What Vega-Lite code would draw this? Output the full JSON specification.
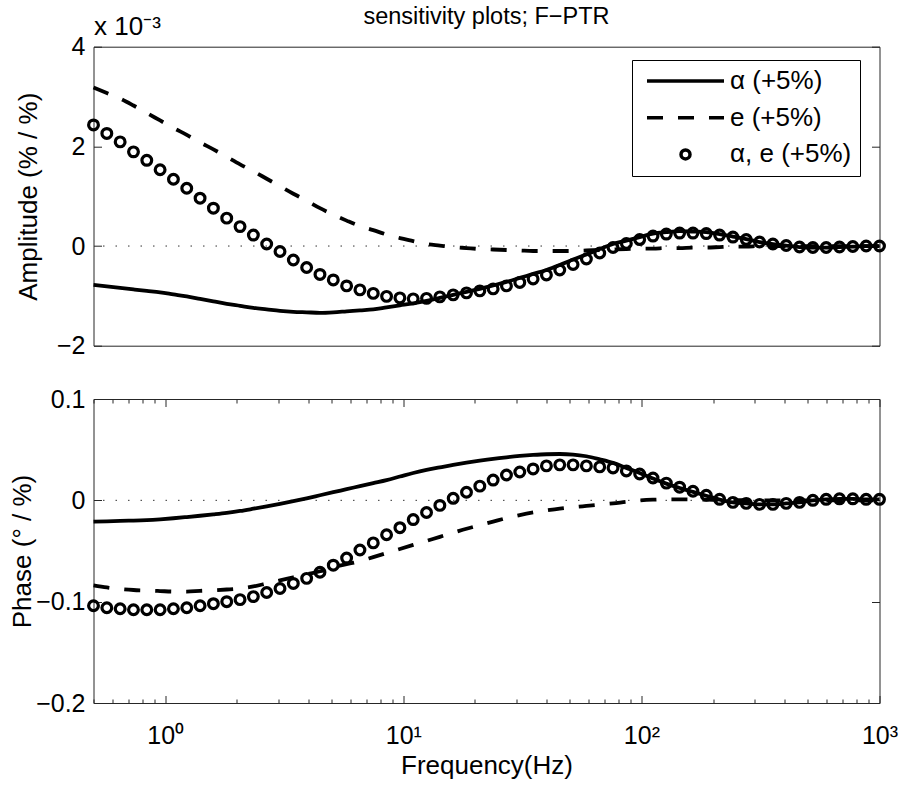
{
  "$schema": "https://vega.github.io/schema/vega-lite/v6.json",
  "autosize": {"type": "none"},
  "padding": {"left": 93.5, "top": 46.7, "right": 806.5, "bottom": 740.3},
  "background": "white",
  "spacing": 53.3,
  "bounds": "flush",
  "resolve": {"scale": {"x": "independent", "y": "independent"}},
  "data": {"values": [
    {"f":0.5,"s":"α (+5%)","a":-0.00078,"p":-0.021},
    {"f":0.5688,"s":"α (+5%)","a":-0.00081,"p":-0.0207},
    {"f":0.647,"s":"α (+5%)","a":-0.00084,"p":-0.0203},
    {"f":0.736,"s":"α (+5%)","a":-0.00087,"p":-0.02},
    {"f":0.8371,"s":"α (+5%)","a":-0.0009,"p":-0.0195},
    {"f":0.9522,"s":"α (+5%)","a":-0.00093,"p":-0.0187},
    {"f":1.0831,"s":"α (+5%)","a":-0.00097,"p":-0.0177},
    {"f":1.232,"s":"α (+5%)","a":-0.00101,"p":-0.0165},
    {"f":1.4014,"s":"α (+5%)","a":-0.00106,"p":-0.0152},
    {"f":1.5941,"s":"α (+5%)","a":-0.00111,"p":-0.0138},
    {"f":1.8133,"s":"α (+5%)","a":-0.00116,"p":-0.0123},
    {"f":2.0626,"s":"α (+5%)","a":-0.0012,"p":-0.0105},
    {"f":2.3462,"s":"α (+5%)","a":-0.00124,"p":-0.0083},
    {"f":2.6688,"s":"α (+5%)","a":-0.00127,"p":-0.006},
    {"f":3.0357,"s":"α (+5%)","a":-0.0013,"p":-0.0035},
    {"f":3.4531,"s":"α (+5%)","a":-0.00132,"p":-0.0008},
    {"f":3.9278,"s":"α (+5%)","a":-0.00133,"p":0.002},
    {"f":4.4679,"s":"α (+5%)","a":-0.00134,"p":0.005},
    {"f":5.0821,"s":"α (+5%)","a":-0.00133,"p":0.008},
    {"f":5.7809,"s":"α (+5%)","a":-0.00131,"p":0.011},
    {"f":6.5757,"s":"α (+5%)","a":-0.00129,"p":0.014},
    {"f":7.4797,"s":"α (+5%)","a":-0.00127,"p":0.017},
    {"f":8.5081,"s":"α (+5%)","a":-0.00123,"p":0.02},
    {"f":9.6778,"s":"α (+5%)","a":-0.00119,"p":0.0235},
    {"f":11.008,"s":"α (+5%)","a":-0.00115,"p":0.027},
    {"f":12.522,"s":"α (+5%)","a":-0.0011,"p":0.03},
    {"f":14.243,"s":"α (+5%)","a":-0.00104,"p":0.0325},
    {"f":16.202,"s":"α (+5%)","a":-0.00098,"p":0.035},
    {"f":18.429,"s":"α (+5%)","a":-0.00092,"p":0.0372},
    {"f":20.963,"s":"α (+5%)","a":-0.00086,"p":0.0392},
    {"f":23.845,"s":"α (+5%)","a":-0.00079,"p":0.041},
    {"f":27.124,"s":"α (+5%)","a":-0.00072,"p":0.0425},
    {"f":30.853,"s":"α (+5%)","a":-0.00064,"p":0.0438},
    {"f":35.095,"s":"α (+5%)","a":-0.00056,"p":0.0448},
    {"f":39.92,"s":"α (+5%)","a":-0.00048,"p":0.0455},
    {"f":45.408,"s":"α (+5%)","a":-0.00038,"p":0.0457},
    {"f":51.651,"s":"α (+5%)","a":-0.00027,"p":0.0452},
    {"f":58.752,"s":"α (+5%)","a":-0.00017,"p":0.0435},
    {"f":66.83,"s":"α (+5%)","a":-0.00006,"p":0.0405},
    {"f":76.018,"s":"α (+5%)","a":0.00004,"p":0.037},
    {"f":86.469,"s":"α (+5%)","a":0.00011,"p":0.032},
    {"f":98.357,"s":"α (+5%)","a":0.00018,"p":0.027},
    {"f":111.88,"s":"α (+5%)","a":0.00025,"p":0.0215},
    {"f":127.26,"s":"α (+5%)","a":0.00028,"p":0.0165},
    {"f":144.76,"s":"α (+5%)","a":0.0003,"p":0.0122},
    {"f":164.66,"s":"α (+5%)","a":0.00029,"p":0.0083},
    {"f":187.3,"s":"α (+5%)","a":0.00028,"p":0.0045},
    {"f":213.05,"s":"α (+5%)","a":0.00024,"p":0.0008},
    {"f":242.34,"s":"α (+5%)","a":0.00019,"p":-0.002},
    {"f":275.66,"s":"α (+5%)","a":0.00014,"p":-0.003},
    {"f":313.56,"s":"α (+5%)","a":0.00008,"p":-0.004},
    {"f":356.67,"s":"α (+5%)","a":0.00004,"p":-0.004},
    {"f":405.71,"s":"α (+5%)","a":0.00001,"p":-0.003},
    {"f":461.49,"s":"α (+5%)","a":-0.00002,"p":-0.002},
    {"f":524.94,"s":"α (+5%)","a":-0.00003,"p":0},
    {"f":597.11,"s":"α (+5%)","a":-0.00003,"p":0.001},
    {"f":679.2,"s":"α (+5%)","a":-0.00002,"p":0.0015},
    {"f":772.58,"s":"α (+5%)","a":-0.00001,"p":0.0015},
    {"f":878.8,"s":"α (+5%)","a":0,"p":0.001},
    {"f":1000,"s":"α (+5%)","a":0,"p":0.001},
    {"f":0.5,"s":"e (+5%)","a":0.00318,"p":-0.084},
    {"f":0.5688,"s":"e (+5%)","a":0.00307,"p":-0.086},
    {"f":0.647,"s":"e (+5%)","a":0.00296,"p":-0.0875},
    {"f":0.736,"s":"e (+5%)","a":0.00282,"p":-0.0885},
    {"f":0.8371,"s":"e (+5%)","a":0.00267,"p":-0.089},
    {"f":0.9522,"s":"e (+5%)","a":0.00252,"p":-0.0895},
    {"f":1.0831,"s":"e (+5%)","a":0.00237,"p":-0.09},
    {"f":1.232,"s":"e (+5%)","a":0.00223,"p":-0.09},
    {"f":1.4014,"s":"e (+5%)","a":0.00208,"p":-0.0893},
    {"f":1.5941,"s":"e (+5%)","a":0.00194,"p":-0.0888},
    {"f":1.8133,"s":"e (+5%)","a":0.00179,"p":-0.088},
    {"f":2.0626,"s":"e (+5%)","a":0.00164,"p":-0.087},
    {"f":2.3462,"s":"e (+5%)","a":0.0015,"p":-0.085},
    {"f":2.6688,"s":"e (+5%)","a":0.00135,"p":-0.082},
    {"f":3.0357,"s":"e (+5%)","a":0.0012,"p":-0.079},
    {"f":3.4531,"s":"e (+5%)","a":0.00105,"p":-0.076},
    {"f":3.9278,"s":"e (+5%)","a":0.00091,"p":-0.073},
    {"f":4.4679,"s":"e (+5%)","a":0.00076,"p":-0.07},
    {"f":5.0821,"s":"e (+5%)","a":0.00063,"p":-0.066},
    {"f":5.7809,"s":"e (+5%)","a":0.00051,"p":-0.063},
    {"f":6.5757,"s":"e (+5%)","a":0.0004,"p":-0.06},
    {"f":7.4797,"s":"e (+5%)","a":0.00032,"p":-0.056},
    {"f":8.5081,"s":"e (+5%)","a":0.00023,"p":-0.052},
    {"f":9.6778,"s":"e (+5%)","a":0.00016,"p":-0.048},
    {"f":11.008,"s":"e (+5%)","a":0.0001,"p":-0.044},
    {"f":12.522,"s":"e (+5%)","a":0.00004,"p":-0.04},
    {"f":14.243,"s":"e (+5%)","a":0.00001,"p":-0.036},
    {"f":16.202,"s":"e (+5%)","a":-0.00002,"p":-0.032},
    {"f":18.429,"s":"e (+5%)","a":-0.00004,"p":-0.028},
    {"f":20.963,"s":"e (+5%)","a":-0.00006,"p":-0.0245},
    {"f":23.845,"s":"e (+5%)","a":-0.00007,"p":-0.021},
    {"f":27.124,"s":"e (+5%)","a":-0.00008,"p":-0.0175},
    {"f":30.853,"s":"e (+5%)","a":-0.00009,"p":-0.0145},
    {"f":35.095,"s":"e (+5%)","a":-0.0001,"p":-0.012},
    {"f":39.92,"s":"e (+5%)","a":-0.0001,"p":-0.01},
    {"f":45.408,"s":"e (+5%)","a":-0.0001,"p":-0.0082},
    {"f":51.651,"s":"e (+5%)","a":-0.0001,"p":-0.0068},
    {"f":58.752,"s":"e (+5%)","a":-0.00009,"p":-0.0055},
    {"f":66.83,"s":"e (+5%)","a":-0.00008,"p":-0.0042},
    {"f":76.018,"s":"e (+5%)","a":-0.00007,"p":-0.003},
    {"f":86.469,"s":"e (+5%)","a":-0.00006,"p":-0.0015},
    {"f":98.357,"s":"e (+5%)","a":-0.00005,"p":-0.0002},
    {"f":111.88,"s":"e (+5%)","a":-0.00005,"p":0.0006},
    {"f":127.26,"s":"e (+5%)","a":-0.00004,"p":0.001},
    {"f":144.76,"s":"e (+5%)","a":-0.00004,"p":0.001},
    {"f":164.66,"s":"e (+5%)","a":-0.00003,"p":0.0008},
    {"f":187.3,"s":"e (+5%)","a":-0.00003,"p":0.0006},
    {"f":213.05,"s":"e (+5%)","a":-0.00002,"p":0.0004},
    {"f":242.34,"s":"e (+5%)","a":-0.00001,"p":0.0002},
    {"f":275.66,"s":"e (+5%)","a":-0.00001,"p":0.0001},
    {"f":313.56,"s":"e (+5%)","a":0,"p":0},
    {"f":356.67,"s":"e (+5%)","a":0,"p":0},
    {"f":405.71,"s":"e (+5%)","a":0,"p":0},
    {"f":461.49,"s":"e (+5%)","a":0,"p":0},
    {"f":524.94,"s":"e (+5%)","a":0,"p":0},
    {"f":597.11,"s":"e (+5%)","a":0,"p":0},
    {"f":679.2,"s":"e (+5%)","a":0,"p":0},
    {"f":772.58,"s":"e (+5%)","a":0,"p":0},
    {"f":878.8,"s":"e (+5%)","a":0,"p":0},
    {"f":1000,"s":"e (+5%)","a":0,"p":0},
    {"f":0.5,"s":"α, e (+5%)","a":0.00243,"p":-0.104},
    {"f":0.5688,"s":"α, e (+5%)","a":0.00226,"p":-0.106},
    {"f":0.647,"s":"α, e (+5%)","a":0.00209,"p":-0.107},
    {"f":0.736,"s":"α, e (+5%)","a":0.00189,"p":-0.108},
    {"f":0.8371,"s":"α, e (+5%)","a":0.00172,"p":-0.108},
    {"f":0.9522,"s":"α, e (+5%)","a":0.00153,"p":-0.108},
    {"f":1.0831,"s":"α, e (+5%)","a":0.00134,"p":-0.107},
    {"f":1.232,"s":"α, e (+5%)","a":0.00116,"p":-0.106},
    {"f":1.4014,"s":"α, e (+5%)","a":0.00096,"p":-0.104},
    {"f":1.5941,"s":"α, e (+5%)","a":0.00076,"p":-0.102},
    {"f":1.8133,"s":"α, e (+5%)","a":0.00056,"p":-0.1},
    {"f":2.0626,"s":"α, e (+5%)","a":0.00039,"p":-0.098},
    {"f":2.3462,"s":"α, e (+5%)","a":0.00022,"p":-0.095},
    {"f":2.6688,"s":"α, e (+5%)","a":0.00004,"p":-0.091},
    {"f":3.0357,"s":"α, e (+5%)","a":-0.00011,"p":-0.087},
    {"f":3.4531,"s":"α, e (+5%)","a":-0.00028,"p":-0.082},
    {"f":3.9278,"s":"α, e (+5%)","a":-0.00043,"p":-0.077},
    {"f":4.4679,"s":"α, e (+5%)","a":-0.00057,"p":-0.071},
    {"f":5.0821,"s":"α, e (+5%)","a":-0.00068,"p":-0.064},
    {"f":5.7809,"s":"α, e (+5%)","a":-0.0008,"p":-0.057},
    {"f":6.5757,"s":"α, e (+5%)","a":-0.00088,"p":-0.049},
    {"f":7.4797,"s":"α, e (+5%)","a":-0.00095,"p":-0.042},
    {"f":8.5081,"s":"α, e (+5%)","a":-0.00101,"p":-0.034},
    {"f":9.6778,"s":"α, e (+5%)","a":-0.00104,"p":-0.027},
    {"f":11.008,"s":"α, e (+5%)","a":-0.00106,"p":-0.019},
    {"f":12.522,"s":"α, e (+5%)","a":-0.00105,"p":-0.012},
    {"f":14.243,"s":"α, e (+5%)","a":-0.00102,"p":-0.005},
    {"f":16.202,"s":"α, e (+5%)","a":-0.00098,"p":0.002},
    {"f":18.429,"s":"α, e (+5%)","a":-0.00094,"p":0.008},
    {"f":20.963,"s":"α, e (+5%)","a":-0.0009,"p":0.014},
    {"f":23.845,"s":"α, e (+5%)","a":-0.00086,"p":0.02},
    {"f":27.124,"s":"α, e (+5%)","a":-0.0008,"p":0.025},
    {"f":30.853,"s":"α, e (+5%)","a":-0.00073,"p":0.028},
    {"f":35.095,"s":"α, e (+5%)","a":-0.00066,"p":0.031},
    {"f":39.92,"s":"α, e (+5%)","a":-0.00058,"p":0.034},
    {"f":45.408,"s":"α, e (+5%)","a":-0.00048,"p":0.035},
    {"f":51.651,"s":"α, e (+5%)","a":-0.00037,"p":0.035},
    {"f":58.752,"s":"α, e (+5%)","a":-0.00026,"p":0.034},
    {"f":66.83,"s":"α, e (+5%)","a":-0.00014,"p":0.033},
    {"f":76.018,"s":"α, e (+5%)","a":-0.00003,"p":0.032},
    {"f":86.469,"s":"α, e (+5%)","a":0.00005,"p":0.029},
    {"f":98.357,"s":"α, e (+5%)","a":0.00013,"p":0.026},
    {"f":111.88,"s":"α, e (+5%)","a":0.0002,"p":0.022},
    {"f":127.26,"s":"α, e (+5%)","a":0.00024,"p":0.017},
    {"f":144.76,"s":"α, e (+5%)","a":0.00026,"p":0.013},
    {"f":164.66,"s":"α, e (+5%)","a":0.00026,"p":0.009},
    {"f":187.3,"s":"α, e (+5%)","a":0.00025,"p":0.005},
    {"f":213.05,"s":"α, e (+5%)","a":0.00022,"p":0.001},
    {"f":242.34,"s":"α, e (+5%)","a":0.00018,"p":-0.002},
    {"f":275.66,"s":"α, e (+5%)","a":0.00013,"p":-0.003},
    {"f":313.56,"s":"α, e (+5%)","a":0.00008,"p":-0.004},
    {"f":356.67,"s":"α, e (+5%)","a":0.00004,"p":-0.004},
    {"f":405.71,"s":"α, e (+5%)","a":0.00001,"p":-0.003},
    {"f":461.49,"s":"α, e (+5%)","a":-0.00002,"p":-0.002},
    {"f":524.94,"s":"α, e (+5%)","a":-0.00003,"p":0},
    {"f":597.11,"s":"α, e (+5%)","a":-0.00003,"p":0.001},
    {"f":679.2,"s":"α, e (+5%)","a":-0.00002,"p":0.0015},
    {"f":772.58,"s":"α, e (+5%)","a":-0.00001,"p":0.0015},
    {"f":878.8,"s":"α, e (+5%)","a":0,"p":0.001},
    {"f":1000,"s":"α, e (+5%)","a":0,"p":0.001}
  ]},
  "vconcat": [
    {
      "width": 786,
      "height": 299,
      "title": {"text": "sensitivity plots; F−PTR", "anchor": "middle", "frame": "group", "font": "Liberation Sans", "fontSize": 23.5, "fontWeight": "normal", "color": "black", "baseline": "alphabetic", "offset": -34.5},
      "resolve": {"axis": {"x": "independent", "y": "independent"}},
      "layer": [
        {
          "data": {"values": [{}]},
          "mark": {"type": "rule", "strokeDash": [1.5, 11], "color": "#333333", "strokeWidth": 1},
          "encoding": {
            "y": {"datum": 0, "type": "quantitative",
              "scale": {"domain": [-0.002, 0.004], "nice": false, "zero": false},
              "axis": {"orient": "left", "values": [-0.002, 0, 0.002, 0.004], "labelExpr": "format(datum.value*1000, '~f')", "ticks": false, "labelPadding": 8.5, "title": "Amplitude (% / %)", "titleX": -57, "titleBaseline": "alphabetic"}}
          }
        },
        {
          "transform": [{"filter": "datum.s === 'α (+5%)'"}],
          "mark": {"type": "line", "strokeWidth": 3.8, "interpolate": "monotone"},
          "encoding": {
            "x": {"field": "f", "type": "quantitative",
              "scale": {"type": "log", "domain": [0.5, 1000], "nice": false},
              "axis": {"orient": "top", "ticks": false, "labels": false, "title": "x 10⁻³", "titleX": 0, "titleY": -12.7, "titleAlign": "left", "titleAnchor": "start", "titleBaseline": "alphabetic"}},
            "y": {"field": "a", "type": "quantitative",
              "scale": {"domain": [-0.002, 0.004], "nice": false, "zero": false},
              "axis": {"orient": "right", "values": [-0.002, 0, 0.002, 0.004], "labels": false, "tickSize": -8, "title": null}},
            "color": {"field": "s", "type": "nominal",
              "scale": {"domain": ["α (+5%)", "e (+5%)", "α, e (+5%)"], "range": ["black", "black", "black"]},
              "legend": {
                "title": null, "orient": "none", "legendX": 538.5, "legendY": 13.3, "direction": "vertical",
                "strokeColor": "black", "fillColor": "white", "padding": 8, "rowPadding": 10.7,
                "labelFont": "Liberation Sans", "labelFontSize": 26, "labelColor": "black", "labelLimit": 400,
                "labelOffset": 31.5, "symbolOffset": 32.5, "symbolSize": 81, "symbolStrokeWidth": 3.5,
                "symbolStrokeColor": "black", "symbolFillColor": "transparent",
                "encode": {"symbols": {"update": {
                  "shape": {"signal": "datum.value === 'α, e (+5%)' ? 'circle' : 'M-8.556,0H8.556'"},
                  "strokeDash": {"signal": "datum.value === 'e (+5%)' ? [16, 15] : []"},
                  "stroke": {"value": "black"},
                  "fill": {"value": "transparent"}
                }}}
              }}
          }
        },
        {
          "transform": [{"filter": "datum.s === 'e (+5%)'"}],
          "mark": {"type": "line", "strokeWidth": 3.8, "strokeDash": [16, 15], "interpolate": "monotone"},
          "encoding": {
            "x": {"field": "f", "type": "quantitative", "scale": {"type": "log", "domain": [0.5, 1000], "nice": false}, "axis": null},
            "y": {"field": "a", "type": "quantitative",
              "scale": {"domain": [-0.002, 0.004], "nice": false, "zero": false},
              "axis": {"orient": "left", "values": [-0.002, 0, 0.002, 0.004], "labels": false, "tickSize": -8, "title": null}},
            "color": {"field": "s", "type": "nominal"}
          }
        },
        {
          "transform": [{"filter": "datum.s === 'α, e (+5%)'"}],
          "mark": {"type": "point", "shape": "circle", "filled": false, "size": 95, "strokeWidth": 3.2, "opacity": 1},
          "encoding": {
            "x": {"field": "f", "type": "quantitative", "scale": {"type": "log", "domain": [0.5, 1000], "nice": false}, "axis": null},
            "y": {"field": "a", "type": "quantitative", "scale": {"domain": [-0.002, 0.004], "nice": false, "zero": false}, "axis": null},
            "color": {"field": "s", "type": "nominal"}
          }
        }
      ]
    },
    {
      "width": 786,
      "height": 304,
      "resolve": {"axis": {"x": "independent", "y": "independent"}},
      "layer": [
        {
          "data": {"values": [{}]},
          "mark": {"type": "rule", "strokeDash": [1.5, 11], "color": "#333333", "strokeWidth": 1},
          "encoding": {
            "y": {"datum": 0, "type": "quantitative",
              "scale": {"domain": [-0.2, 0.1], "nice": false, "zero": false},
              "axis": {"orient": "left", "values": [-0.2, -0.1, 0, 0.1], "format": "~f", "ticks": false, "labelPadding": 8.5, "title": "Phase (° / %)", "titleX": -63.5, "titleBaseline": "alphabetic"}}
          }
        },
        {
          "transform": [{"filter": "datum.s === 'α (+5%)'"}],
          "mark": {"type": "line", "strokeWidth": 3.8, "color": "black", "interpolate": "monotone"},
          "encoding": {
            "x": {"field": "f", "type": "quantitative",
              "scale": {"type": "log", "domain": [0.5, 1000], "nice": false},
              "axis": {"orient": "bottom", "values": [1, 10, 100, 1000], "ticks": false, "labelExpr": "datum.value == 1 ? '10⁰' : datum.value == 10 ? '10¹' : datum.value == 100 ? '10²' : '10³'", "labelBaseline": "alphabetic", "labelPadding": 40.3, "title": "Frequency(Hz)", "titleY": 70.3, "titleBaseline": "alphabetic"}},
            "y": {"field": "p", "type": "quantitative",
              "scale": {"domain": [-0.2, 0.1], "nice": false, "zero": false},
              "axis": {"orient": "right", "values": [-0.2, -0.1, 0, 0.1], "labels": false, "tickSize": -8, "title": null}}
          }
        },
        {
          "transform": [{"filter": "datum.s === 'e (+5%)'"}],
          "mark": {"type": "line", "strokeWidth": 3.8, "color": "black", "strokeDash": [16, 15], "interpolate": "monotone"},
          "encoding": {
            "x": {"field": "f", "type": "quantitative",
              "scale": {"type": "log", "domain": [0.5, 1000], "nice": false},
              "axis": {"orient": "bottom", "values": [0.5,0.6,0.7,0.8,0.9,1,2,3,4,5,6,7,8,9,10,20,30,40,50,60,70,80,90,100,200,300,400,500,600,700,800,900,1000], "labels": false, "title": null,
                "tickSize": {"condition": {"test": "datum.value === 1 || datum.value === 10 || datum.value === 100 || datum.value === 1000", "value": -7.5}, "value": -4}}},
            "y": {"field": "p", "type": "quantitative",
              "scale": {"domain": [-0.2, 0.1], "nice": false, "zero": false},
              "axis": {"orient": "left", "values": [-0.2, -0.1, 0, 0.1], "labels": false, "tickSize": -8, "title": null}}
          }
        },
        {
          "transform": [{"filter": "datum.s === 'α, e (+5%)'"}],
          "mark": {"type": "point", "shape": "circle", "filled": false, "size": 95, "strokeWidth": 3.2, "color": "black", "opacity": 1},
          "encoding": {
            "x": {"field": "f", "type": "quantitative",
              "scale": {"type": "log", "domain": [0.5, 1000], "nice": false},
              "axis": {"orient": "top", "values": [0.5,0.6,0.7,0.8,0.9,1,2,3,4,5,6,7,8,9,10,20,30,40,50,60,70,80,90,100,200,300,400,500,600,700,800,900,1000], "labels": false, "title": null,
                "tickSize": {"condition": {"test": "datum.value === 1 || datum.value === 10 || datum.value === 100 || datum.value === 1000", "value": -7.5}, "value": -4}}},
            "y": {"field": "p", "type": "quantitative", "scale": {"domain": [-0.2, 0.1], "nice": false, "zero": false}, "axis": null}
          }
        }
      ]
    }
  ],
  "config": {
    "view": {"stroke": "#262626", "strokeWidth": 1},
    "font": "Liberation Sans",
    "axis": {
      "domain": false, "grid": false,
      "labelFont": "Liberation Sans", "labelFontSize": 25, "labelColor": "black",
      "titleFont": "Liberation Sans", "titleFontSize": 26, "titleFontWeight": "normal", "titleColor": "black",
      "tickColor": "#262626", "tickWidth": 1,
      "labelFlush": false, "labelOverlap": false, "labelBound": false
    }
  }
}
